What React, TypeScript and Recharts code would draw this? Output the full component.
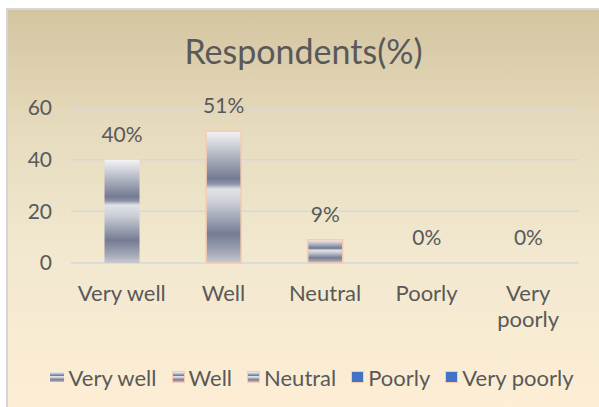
import { BarChart, Bar, XAxis, YAxis, CartesianGrid, Legend, LabelList, Cell } from 'recharts';

const categories = ['Very well', 'Well', 'Neutral', 'Poorly', 'Very poorly'];
const respondents = [40, 51, 9, 0, 0];
const yTicks = [0, 20, 40, 60];

const data = categories.map((name, i) => ({ name, value: respondents[i] }));

const FONT = 'Lato, "Liberation Sans", sans-serif';
const TEXT = '#595959';
const CHROME_CSS =
  'linear-gradient(to bottom, #f4f4f6 0%, #737b92 36%, #e2e3e8 44%, #c9ccd5 55%, #757c93 78%, #a4a8b6 92%, #c8cad2 100%)';
const fills = ['url(#chrome)', 'url(#chrome)', 'url(#chrome)', '#4472c4', '#4472c4'];
const strokes = ['none', '#f8cbad', '#f8cbad', 'none', 'none'];

// long labels wrap onto two lines like the original axis
function CategoryTick(props: any) {
  const { x, y, payload } = props;
  const label = String(payload.value);
  const lines = label.length > 10 ? label.split(' ') : [label];
  return (
    <text x={x} y={y} textAnchor="middle" fill={TEXT} fontSize={22} fontFamily={FONT}>
      {lines.map((l, i) => (
        <tspan key={l} x={x} dy={i === 0 ? '0.71em' : 26}>
          {l}
        </tspan>
      ))}
    </text>
  );
}

const renderLegend = () => (
  <div
    style={{
      display: 'flex',
      justifyContent: 'center',
      alignItems: 'center',
      height: 30,
      gap: 16,
      paddingLeft: 36,
      fontFamily: FONT,
      fontSize: 22,
      color: TEXT,
    }}
  >
    {categories.map((c, i) => (
      <span key={c} style={{ display: 'flex', alignItems: 'center' }}>
        <span
          style={{
            display: 'inline-block',
            width: i === 0 ? 14 : 11,
            height: 10,
            marginRight: 5,
            background: i < 3 ? CHROME_CSS : '#4472c4',
            boxShadow: i > 0 ? '0 0 0 1px #f8cbad' : 'none',
          }}
        />
        {c}
      </span>
    ))}
  </div>
);

export default function App() {
  return (
    <div style={{ position: 'absolute', left: 0, top: 0, width: 599, height: 407, background: '#fff' }}>
      <div
        style={{
          position: 'absolute',
          left: 6,
          top: 8,
          width: 593,
          height: 399,
          boxSizing: 'border-box',
          borderLeft: '2px solid #d6d6d6',
          borderTop: '2px solid #d6d6d6',
          background: 'linear-gradient(to bottom, #d4c5a1 0%, #e6dbbd 30%, #f1e8cf 60%, #fdeed5 100%)',
        }}
      >
        <div
          style={{
            position: 'absolute',
            left: 0,
            right: 0,
            top: 20,
            textAlign: 'center',
            fontFamily: FONT,
            fontSize: 34,
            color: TEXT,
          }}
        >
          Respondents(%)
        </div>
        <BarChart
          width={591}
          height={397}
          data={data}
          margin={{ top: 98, right: 20, left: 0, bottom: 15 }}
          barCategoryGap="33%"
        >
          <defs>
            <linearGradient id="chrome" x1="0" y1="0" x2="0" y2="1">
              <stop offset="0%" stopColor="#f4f4f6" />
              <stop offset="36%" stopColor="#737b92" />
              <stop offset="40%" stopColor="#8e94a8" />
              <stop offset="44%" stopColor="#e2e3e8" />
              <stop offset="55%" stopColor="#c9ccd5" />
              <stop offset="78%" stopColor="#757c93" />
              <stop offset="92%" stopColor="#a4a8b6" />
              <stop offset="100%" stopColor="#c8cad2" />
            </linearGradient>
          </defs>
          <CartesianGrid vertical={false} stroke="#d6d7db" strokeWidth={1.5} />
          <XAxis
            dataKey="name"
            axisLine={false}
            tickLine={false}
            height={99}
            tickMargin={16}
            interval={0}
            tick={<CategoryTick />}
          />
          <YAxis
            domain={[0, 60]}
            ticks={yTicks}
            width={63}
            axisLine={false}
            tickLine={false}
            tickSize={0}
            tickMargin={19}
            tick={{ fontSize: 21, fill: TEXT, fontFamily: FONT }}
          />
          <Legend verticalAlign="bottom" content={renderLegend} />
          <Bar dataKey="value" isAnimationActive={false} minPointSize={0.01}>
            {data.map((d, i) => (
              <Cell key={d.name} fill={fills[i]} stroke={strokes[i]} strokeWidth={1.5} />
            ))}
            <LabelList
              dataKey="value"
              position="top"
              offset={18}
              formatter={(v: any) => `${v}%`}
              style={{ fontSize: 21, fill: TEXT, fontFamily: FONT }}
            />
          </Bar>
        </BarChart>
      </div>
    </div>
  );
}
